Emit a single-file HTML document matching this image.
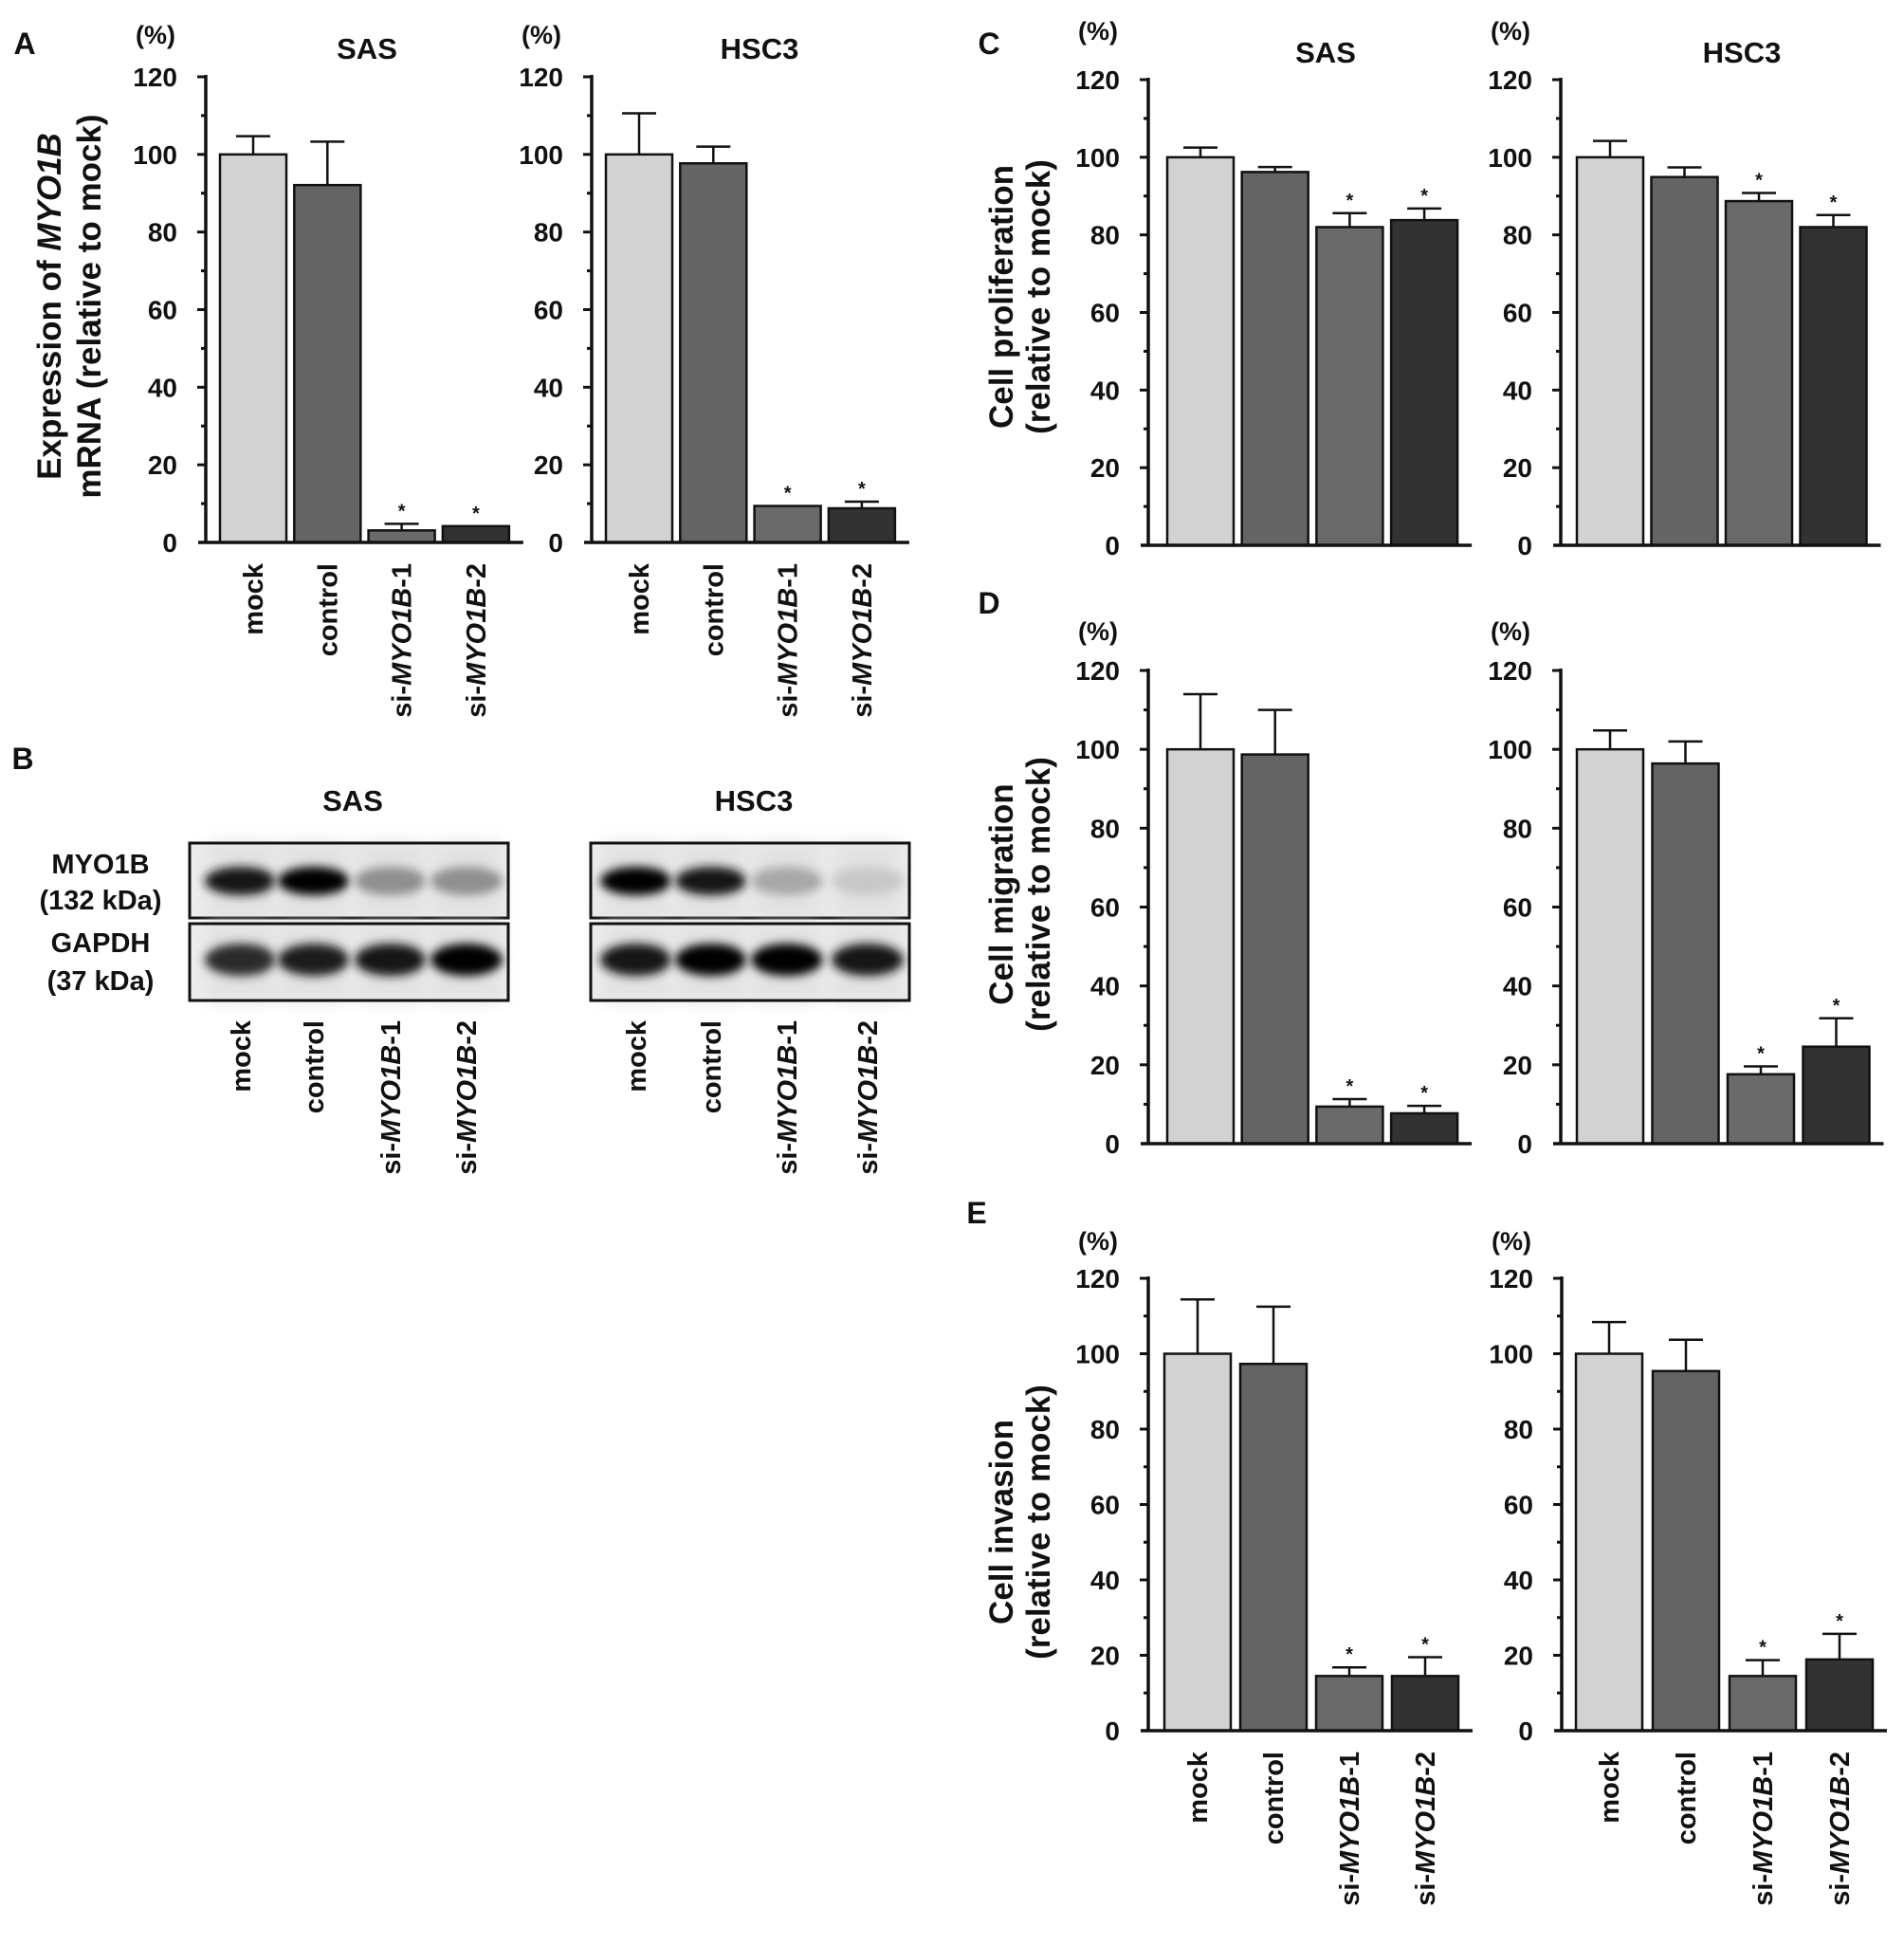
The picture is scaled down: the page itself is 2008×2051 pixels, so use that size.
<!DOCTYPE html>
<html><head><meta charset="utf-8"><title>MYO1B knockdown figure</title>
<style>
html,body{margin:0;padding:0;background:#fff}
svg{display:block}
text{font-family:"Liberation Sans",Arial,sans-serif;font-weight:bold;fill:#111}
</style></head>
<body>
<svg id="fig" width="2008" height="2051" viewBox="0 0 2008 2051" xmlns="http://www.w3.org/2000/svg">
<defs>
<filter id="blur" x="-30%" y="-60%" width="160%" height="220%"><feGaussianBlur stdDeviation="5"/></filter>
<filter id="blur2" x="-30%" y="-60%" width="160%" height="220%"><feGaussianBlur stdDeviation="9"/></filter>
</defs>
<g id="layer"></g>
</svg>
<script>
// ---- chart data ----
const categories = ["mock", "control", "si-MYO1B-1", "si-MYO1B-2"];
const yTicks = [0, 20, 40, 60, 80, 100, 120];
const mrnaSAS = [100, 92.1, 3.1, 4.2];
const mrnaSASerr = [104.7, 103.3, 4.8, 4.2];
const mrnaHSC3 = [100, 97.7, 9.4, 8.8];
const mrnaHSC3err = [110.6, 102, 9.4, 10.5];
const prolifSAS = [100, 96.2, 82, 83.8];
const prolifSASerr = [102.5, 97.5, 85.6, 86.8];
const prolifHSC3 = [100, 94.9, 88.7, 82];
const prolifHSC3err = [104.2, 97.4, 90.8, 85.1];
const migrSAS = [100, 98.7, 9.4, 7.7];
const migrSASerr = [114, 110, 11.3, 9.6];
const migrHSC3 = [100, 96.4, 17.6, 24.6];
const migrHSC3err = [104.8, 102, 19.6, 31.8];
const invSAS = [100, 97.3, 14.5, 14.5];
const invSASerr = [114.4, 112.5, 16.8, 19.5];
const invHSC3 = [100, 95.4, 14.5, 18.9];
const invHSC3err = [108.4, 103.7, 18.7, 25.7];
const significant = [false, false, true, true];
const blotMYO1B_SAS = [0.95, 1.0, 0.45, 0.45];
const blotMYO1B_HSC3 = [1.0, 0.95, 0.35, 0.22];
const blotGAPDH_SAS = [0.85, 0.9, 0.95, 1.0];
const blotGAPDH_HSC3 = [0.95, 1.0, 1.0, 0.95];

const NS = "http://www.w3.org/2000/svg";
const layer = document.getElementById("layer");
const fills = ["#d2d2d2", "#646464", "#6a6a6a", "#323232"];

function mk(tag, attrs, parent) {
  const e = document.createElementNS(NS, tag);
  for (const k in attrs) e.setAttribute(k, attrs[k]);
  (parent || layer).appendChild(e);
  return e;
}
function txt(str, x, y, size, anchor, parent) {
  const t = mk("text", {x: x, y: y, "font-size": size, "text-anchor": anchor || "middle"}, parent);
  t.textContent = str;
  return t;
}
function catLabel(cat, x, y, parent) {
  const t = mk("text", {x: 0, y: 0, "font-size": 29, "text-anchor": "end",
    transform: "translate(" + x + "," + y + ") rotate(-90)"}, parent);
  if (cat.indexOf("si-") === 0) {
    const parts = ["si-", cat.slice(3, 8), cat.slice(8)];
    const a = mk("tspan", {}, t); a.textContent = parts[0];
    const b = mk("tspan", {"font-style": "italic"}, t); b.textContent = parts[1];
    const c = mk("tspan", {}, t); c.textContent = parts[2];
  } else t.textContent = cat;
  return t;
}

function barChart(name, axisX, yTop, yZero, values, errs, opts) {
  const g = mk("g", {});
  
  
  const y = v => yZero - (yZero - yTop) * v / 120;
  const off = opts.off, w = 70, step = opts.step;
  const bx = i => axisX + off + i * step;
  values.forEach((v, i) => {
    const r = mk("rect", {x: bx(i), y: y(v), width: w, height: yZero - y(v), fill: fills[i], stroke: "#111", "stroke-width": 2.5}, g);
    
    
    const cx = bx(i) + w / 2;
    if (errs[i] > v + 0.3) {
      const el = mk("path", {d: "M" + cx + "," + y(v) + "V" + y(errs[i]) + "M" + (cx - 18) + "," + y(errs[i]) + "H" + (cx + 18), stroke: "#111", "stroke-width": 2.5, fill: "none"}, g);
      
      
    }
    if (significant[i]) {
      const s = txt("*", cx, y(errs[i]) - 7, 20, "middle", g);
      
      
    }
  });
  const ax = mk("path", {d: "M" + axisX + "," + (yTop - 2) + "V" + yZero, stroke: "#111", "stroke-width": 3.5, fill: "none"}, g);
  
  
  const xEnd = bx(3) + w + 15;
  const xa = mk("path", {d: "M" + (axisX - 8) + "," + yZero + "H" + xEnd, stroke: "#111", "stroke-width": 3.5, fill: "none"}, g);
  
  
  for (let v = 10; v <= 120; v += 10) {
    const major = v % 20 === 0;
    mk("path", {d: "M" + (axisX - (major ? 9 : 5)) + "," + y(v) + "H" + axisX, stroke: "#111", "stroke-width": 3, fill: "none"}, g);
  }
  yTicks.forEach(v => {
    const t = txt(String(v), axisX - 30, y(v) + 10, 28, "end", g);
    
    
  });
  const p = txt("(%)", axisX - 53, opts.pctY, 27, "middle", g);
  
  
  if (opts.title) {
    const tt = txt(opts.title, axisX + opts.titleDx, opts.titleY, 31, "middle", g);
    
    
  }
  if (opts.cats) {
    categories.forEach((c, i) => {
      const cl = catLabel(c, bx(i) + w / 2 + 10, yZero + 22, g);
      
      
    });
  }
}

function yTitle(l1, l2, x1, x2, cy, italicWord) {
  const g = mk("g", {});
  
  
  [[l1, x1], [l2, x2]].forEach(([s, x], k) => {
    const t = mk("text", {x: 0, y: 0, "font-size": 35, "text-anchor": "middle", transform: "translate(" + (x + 13) + "," + cy + ") rotate(-90)"}, g);
    if (k === 0 && italicWord) {
      const a = mk("tspan", {}, t); a.textContent = s.replace(italicWord, "");
      const b = mk("tspan", {"font-style": "italic"}, t); b.textContent = italicWord;
    } else t.textContent = s;
  });
}
function panelLetter(l, x, y) {
  const t = txt(l, x, y, 32, "middle");
  
  
}

panelLetter("A", 26, 57);
yTitle("Expression of MYO1B", "mRNA (relative to mock)", 51, 93, 323, "MYO1B");
barChart("mrna-sas-chart", 217, 81, 572, mrnaSAS, mrnaSASerr, {off: 15, step: 78.3, pctY: 46, title: "SAS", titleDx: 170, titleY: 62, cats: true});
barChart("mrna-hsc3-chart", 624, 81, 572, mrnaHSC3, mrnaHSC3err, {off: 15, step: 78.3, pctY: 46, title: "HSC3", titleDx: 177, titleY: 62, cats: true});

panelLetter("C", 1043, 57);
yTitle("Cell proliferation", "(relative to mock)", 1055, 1094, 313);
barChart("proliferation-sas-chart", 1211, 84, 575, prolifSAS, prolifSASerr, {off: 20, step: 78.7, pctY: 42, title: "SAS", titleDx: 187, titleY: 66});
barChart("proliferation-hsc3-chart", 1646, 84, 575, prolifHSC3, prolifHSC3err, {off: 17, step: 78.5, pctY: 42, title: "HSC3", titleDx: 191, titleY: 66});

panelLetter("D", 1043, 647);
yTitle("Cell migration", "(relative to mock)", 1055, 1094, 943);
barChart("migration-sas-chart", 1211, 707, 1206, migrSAS, migrSASerr, {off: 20, step: 78.7, pctY: 675});
barChart("migration-hsc3-chart", 1646, 707, 1206, migrHSC3, migrHSC3err, {off: 17, step: 79.5, pctY: 675});

panelLetter("E", 1030, 1290);
yTitle("Cell invasion", "(relative to mock)", 1055, 1094, 1605);
barChart("invasion-sas-chart", 1211, 1348, 1825, invSAS, invSASerr, {off: 17, step: 80, pctY: 1318, cats: true});
barChart("invasion-hsc3-chart", 1647, 1348, 1825, invHSC3, invHSC3err, {off: 15, step: 81, pctY: 1318, cats: true});

panelLetter("B", 24, 811);
function blot(name, x0, title, myo, gapdh, lanes) {
  const g = mk("g", {});
  
  
  const w = 336;
  const t = txt(title, x0 + w / 2 + 4, 855, 31, "middle", g);
  
  
  [[889, 79, myo, 929, 26], [974, 81, gapdh, 1012, 30]].forEach(([yy, h, vals, by, bh], k) => {
    const box = mk("g", {}, g);
    
    
    mk("rect", {x: x0, y: yy, width: w, height: h, fill: "#ececec"}, box);
    vals.forEach((v, i) => {
      const cx = lanes[i];
      mk("rect", {x: cx - 36, y: yy, width: 72, height: h, fill: "#e2e2e2", filter: "url(#blur2)"}, box);
      const c = Math.round(255 - 250 * v);
      mk("ellipse", {cx: cx, cy: by, rx: 38, ry: bh / 2 + 2, fill: "rgb(" + c + "," + c + "," + c + ")", filter: "url(#blur)"}, box);
    });
    mk("rect", {x: x0, y: yy, width: w, height: h, fill: "none", stroke: "#111", "stroke-width": 3}, box);
  });
  categories.forEach((c, i) => {
    const cl = catLabel(c, lanes[i] + 10, 1076, g);
    
    
  });
}
blot("blot-sas", 200, "SAS", blotMYO1B_SAS, blotGAPDH_SAS, [254, 331, 412, 492]);
blot("blot-hsc3", 623, "HSC3", blotMYO1B_HSC3, blotGAPDH_HSC3, [671, 750, 830, 915]);
[["MYO1B", 921], ["(132 kDa)", 959], ["GAPDH", 1004], ["(37 kDa)", 1044]].forEach(([s, y]) => {
  const t = txt(s, 106, y, 29, "middle");
  
  
});
</script>
</body></html>
